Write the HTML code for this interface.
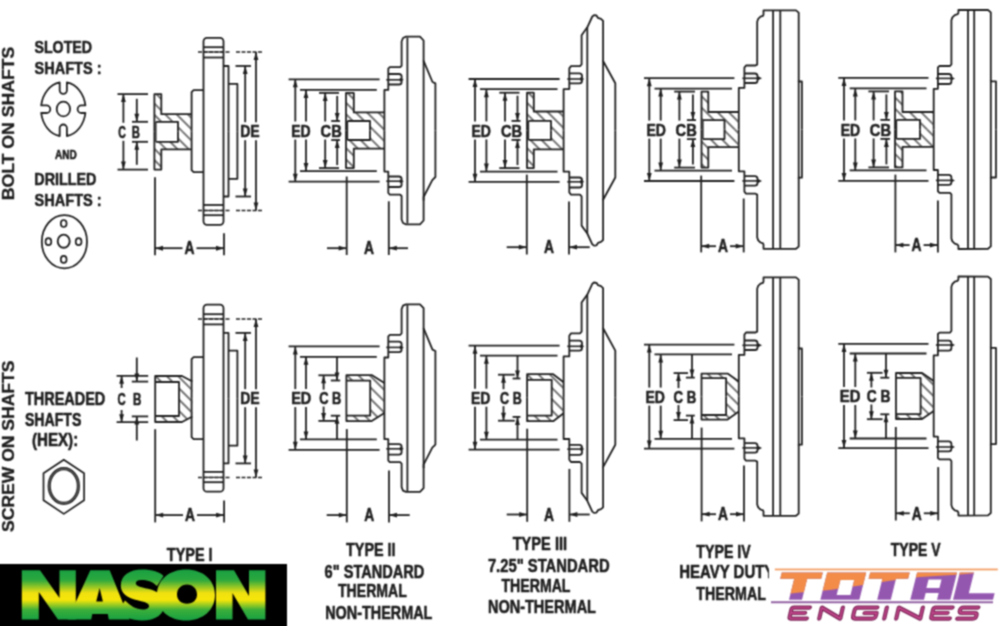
<!DOCTYPE html><html><head><meta charset="utf-8"><title>Fan clutch types</title><style>html,body{margin:0;padding:0;background:#fff;width:1000px;height:626px;overflow:hidden}svg{display:block}</style></head><body>
<svg width="1000" height="626" viewBox="0 0 1000 626">
<defs>
<filter id="soft" x="0" y="0" width="1" height="1" color-interpolation-filters="sRGB"><feConvolveMatrix order="3" kernelMatrix="1 2 1 2 5 2 1 2 1" divisor="17" edgeMode="duplicate"/></filter>
<pattern id="hatch" patternUnits="userSpaceOnUse" width="8" height="8" patternTransform="rotate(45)"><line x1="0" y1="4" x2="8" y2="4" stroke="#3a3a3a" stroke-width="1.4"/></pattern>
<linearGradient id="nas" x1="0" y1="570" x2="0" y2="620" gradientUnits="userSpaceOnUse"><stop offset="0" stop-color="#1aa042"/><stop offset="0.2" stop-color="#2ba83e"/><stop offset="0.46" stop-color="#f0e010"/><stop offset="0.6" stop-color="#f6e60a"/><stop offset="0.8" stop-color="#3aae3a"/><stop offset="1" stop-color="#17a042"/></linearGradient>
<linearGradient id="tot" x1="780" y1="594" x2="800" y2="579" gradientUnits="userSpaceOnUse"><stop offset="0.5" stop-color="#f28c48"/><stop offset="0.5" stop-color="#9457b0"/></linearGradient>
</defs>
<g filter="url(#soft)">
<rect width="1000" height="626" fill="#fff"/>
<g fill="none" stroke="#1e1e1e" stroke-linejoin="round" font-family="Liberation Sans, sans-serif" font-weight="bold">
<rect x="203.5" y="37.8" width="20" height="187" rx="3.5" stroke-width="1.8"/>
<line x1="203.5" y1="47.2" x2="223.5" y2="47.2" stroke-width="1.8" />
<line x1="203.5" y1="215.2" x2="223.5" y2="215.2" stroke-width="1.8" />
<line x1="203.5" y1="57.5" x2="223.5" y2="57.5" stroke-width="1.8" />
<line x1="203.5" y1="205.0" x2="223.5" y2="205.0" stroke-width="1.8" />
<line x1="203.5" y1="52.0" x2="223.5" y2="52.0" stroke-width="1.2" />
<line x1="203.5" y1="210.5" x2="223.5" y2="210.5" stroke-width="1.2" />
<path d="M223.5,66.0 L228.5,66.0 L228.5,131.2" fill="none" stroke-width="1.8" />
<path d="M223.5,196.5 L228.5,196.5 L228.5,131.2" fill="none" stroke-width="1.8" />
<path d="M228.5,83.8 L237.4,83.8 L237.4,131.2" fill="none" stroke-width="1.8" />
<path d="M228.5,178.8 L237.4,178.8 L237.4,131.2" fill="none" stroke-width="1.8" />
<path d="M203.5,90.2 L193.6,90.2 L191.6,92.2 L191.6,131.2" fill="none" stroke-width="1.8" />
<path d="M203.5,172.2 L193.6,172.2 L191.6,170.2 L191.6,131.2" fill="none" stroke-width="1.8" />
<line x1="235.5" y1="196.5" x2="251.0" y2="196.5" stroke-width="1.8" />
<line x1="198.0" y1="210.5" x2="229.5" y2="210.5" stroke-width="1.5" stroke-dasharray="4,1.5"/>
<line x1="236.0" y1="210.5" x2="262.4" y2="210.5" stroke-width="1.5" stroke-dasharray="4,1.5"/>
<line x1="235.5" y1="66.0" x2="251.0" y2="66.0" stroke-width="1.8" />
<line x1="198.0" y1="52.0" x2="229.5" y2="52.0" stroke-width="1.5" stroke-dasharray="4,1.5"/>
<line x1="236.0" y1="52.0" x2="262.4" y2="52.0" stroke-width="1.5" stroke-dasharray="4,1.5"/>
<line x1="245.2" y1="122.2" x2="245.2" y2="66.0" stroke-width="1.8" />
<path d="M245.2,66.0 L242.8,74.0 L247.6,74.0 Z" fill="#1e1e1e" stroke="none"/>
<line x1="245.2" y1="140.2" x2="245.2" y2="196.5" stroke-width="1.8" />
<path d="M245.2,196.5 L242.8,188.5 L247.6,188.5 Z" fill="#1e1e1e" stroke="none"/>
<line x1="256.0" y1="122.2" x2="256.0" y2="52.0" stroke-width="1.8" />
<path d="M256.0,52.0 L253.6,60.0 L258.4,60.0 Z" fill="#1e1e1e" stroke="none"/>
<line x1="256.0" y1="140.2" x2="256.0" y2="210.5" stroke-width="1.8" />
<path d="M256.0,210.5 L253.6,202.5 L258.4,202.5 Z" fill="#1e1e1e" stroke="none"/>
<text x="240.2" y="137.4" font-size="16.5" text-anchor="start" fill="#1e1e1e" stroke="#1e1e1e" stroke-width="0.55" textLength="19.5" lengthAdjust="spacingAndGlyphs" >DE</text>
<path d="M154.4,94.1 L161.3,94.1 L161.3,114.2 L191.6,114.2 L191.6,131.8 L178.0,131.8 L178.0,121.8 L154.4,121.8 Z" fill="url(#hatch)" stroke="none"/>
<path d="M154.4,169.6 L161.3,169.6 L161.3,149.4 L191.6,149.4 L191.6,131.8 L178.0,131.8 L178.0,141.8 L154.4,141.8 Z" fill="url(#hatch)" stroke="none"/>
<path d="M154.4,131.8 L154.4,94.1 L161.3,94.1 L161.3,114.2 L191.6,114.2" fill="none" stroke-width="1.8" />
<path d="M154.4,131.8 L154.4,169.6 L161.3,169.6 L161.3,149.4 L191.6,149.4" fill="none" stroke-width="1.8" />
<path d="M155.9,121.8 L178.0,121.8 L178.0,131.8" fill="none" stroke-width="1.8" />
<path d="M155.9,141.8 L178.0,141.8 L178.0,131.8" fill="none" stroke-width="1.8" />
<line x1="155.9" y1="121.8" x2="155.9" y2="141.8" stroke-width="1.3" />
<line x1="117.5" y1="169.6" x2="148.0" y2="169.6" stroke-width="1.8" />
<line x1="132.0" y1="141.8" x2="148.0" y2="141.8" stroke-width="1.8" />
<line x1="117.5" y1="94.1" x2="148.0" y2="94.1" stroke-width="1.8" />
<line x1="132.0" y1="121.8" x2="148.0" y2="121.8" stroke-width="1.8" />
<line x1="123.4" y1="122.8" x2="123.4" y2="94.1" stroke-width="1.8" />
<path d="M123.4,94.1 L121.0,102.1 L125.8,102.1 Z" fill="#1e1e1e" stroke="none"/>
<line x1="123.4" y1="140.8" x2="123.4" y2="169.6" stroke-width="1.8" />
<path d="M123.4,169.6 L121.0,161.6 L125.8,161.6 Z" fill="#1e1e1e" stroke="none"/>
<line x1="136.8" y1="98.8" x2="136.8" y2="121.8" stroke-width="1.8" />
<path d="M136.8,121.8 L134.4,113.8 L139.2,113.8 Z" fill="#1e1e1e" stroke="none"/>
<line x1="136.8" y1="164.8" x2="136.8" y2="141.8" stroke-width="1.8" />
<path d="M136.8,141.8 L134.4,149.8 L139.2,149.8 Z" fill="#1e1e1e" stroke="none"/>
<text x="118.2" y="138.0" font-size="16.5" text-anchor="start" fill="#1e1e1e" stroke="#1e1e1e" stroke-width="0.55" textLength="7.6" lengthAdjust="spacingAndGlyphs" >C</text>
<text x="131.8" y="138.0" font-size="16.5" text-anchor="start" fill="#1e1e1e" stroke="#1e1e1e" stroke-width="0.55" textLength="8.2" lengthAdjust="spacingAndGlyphs" >B</text>
<line x1="155.0" y1="177.2" x2="155.0" y2="255.2" stroke-width="1.8" />
<line x1="224.0" y1="233.2" x2="224.0" y2="255.2" stroke-width="1.8" />
<line x1="155.0" y1="248.2" x2="182.5" y2="248.2" stroke-width="1.8" />
<path d="M155.0,248.2 L163.0,245.8 L163.0,250.7 Z" fill="#1e1e1e" stroke="none"/>
<line x1="196.5" y1="248.2" x2="224.0" y2="248.2" stroke-width="1.8" />
<path d="M224.0,248.2 L216.0,245.8 L216.0,250.7 Z" fill="#1e1e1e" stroke="none"/>
<text x="189.5" y="254.4" font-size="17.5" text-anchor="middle" fill="#1e1e1e" stroke="#1e1e1e" stroke-width="0.55" textLength="10" lengthAdjust="spacingAndGlyphs" >A</text>
<path d="M384.4,130.5 L384.4,89.9 L388.3,89.9 L388.3,68.7 L389.8,67.2 L400.2,67.2 L401.6,65.8 L401.6,41.5 L403.0,38.0 L406.0,36.7 L420.0,36.7 L423.6,40.5 L423.6,60.8 L432.5,82.0 L435.4,83.4 L435.4,130.5" fill="none" stroke-width="1.8" />
<path d="M384.4,130.5 L384.4,171.6 L388.3,171.6 L388.3,193.0 L389.8,194.6 L400.2,194.6 L401.6,196.0 L401.6,219.5 L403.0,223.0 L406.0,224.3 L420.0,224.3 L423.6,220.5 L423.6,197.0 L432.3,180.1 L435.4,177.0 L435.4,130.5" fill="none" stroke-width="1.8" />
<line x1="407.4" y1="37.5" x2="407.4" y2="223.5" stroke-width="1.8" />
<line x1="423.6" y1="60.5" x2="423.6" y2="200.5" stroke-width="1.8" />
<path d="M388.3,74.0 L399.0,74.0 Q401.6,74.0 401.6,76.6 L401.6,81.9 Q401.6,84.5 399.0,84.5 L388.3,84.5" fill="none" stroke-width="1.8"/>
<line x1="386.3" y1="79.8" x2="400.8" y2="79.8" stroke-width="1.6" />
<path d="M403.8,79.8 L399.8,77.8 L399.8,81.8 Z" fill="#1e1e1e" stroke="none"/>
<path d="M388.3,187.0 L399.0,187.0 Q401.6,187.0 401.6,184.4 L401.6,179.1 Q401.6,176.5 399.0,176.5 L388.3,176.5" fill="none" stroke-width="1.8"/>
<line x1="386.3" y1="181.2" x2="400.8" y2="181.2" stroke-width="1.6" />
<path d="M403.8,181.2 L399.8,179.2 L399.8,183.2 Z" fill="#1e1e1e" stroke="none"/>
<line x1="288.6" y1="181.7" x2="379.6" y2="181.7" stroke-width="1.8" />
<line x1="300.0" y1="171.1" x2="376.8" y2="171.1" stroke-width="1.8" />
<line x1="288.6" y1="79.3" x2="379.6" y2="79.3" stroke-width="1.8" />
<line x1="300.0" y1="89.9" x2="376.8" y2="89.9" stroke-width="1.8" />
<line x1="295.3" y1="121.5" x2="295.3" y2="79.3" stroke-width="1.8" />
<path d="M295.3,79.3 L292.9,87.3 L297.7,87.3 Z" fill="#1e1e1e" stroke="none"/>
<line x1="295.3" y1="139.5" x2="295.3" y2="181.7" stroke-width="1.8" />
<path d="M295.3,181.7 L292.9,173.7 L297.7,173.7 Z" fill="#1e1e1e" stroke="none"/>
<line x1="306.0" y1="121.5" x2="306.0" y2="89.9" stroke-width="1.8" />
<path d="M306.0,89.9 L303.6,97.9 L308.4,97.9 Z" fill="#1e1e1e" stroke="none"/>
<line x1="306.0" y1="139.5" x2="306.0" y2="171.1" stroke-width="1.8" />
<path d="M306.0,171.1 L303.6,163.1 L308.4,163.1 Z" fill="#1e1e1e" stroke="none"/>
<text x="291.2" y="136.7" font-size="16.5" text-anchor="start" fill="#1e1e1e" stroke="#1e1e1e" stroke-width="0.55" textLength="19.4" lengthAdjust="spacingAndGlyphs" >ED</text>
<path d="M346.0,92.9 L353.8,92.9 L353.8,112.4 L384.4,112.4 L384.4,130.5 L370.0,130.5 L370.0,121.0 L346.0,121.0 Z" fill="url(#hatch)" stroke="none"/>
<path d="M346.0,168.1 L353.8,168.1 L353.8,148.6 L384.4,148.6 L384.4,130.5 L370.0,130.5 L370.0,140.0 L346.0,140.0 Z" fill="url(#hatch)" stroke="none"/>
<path d="M346.0,130.5 L346.0,92.9 L353.8,92.9 L353.8,112.4 L384.4,112.4" fill="none" stroke-width="1.8" />
<path d="M346.0,130.5 L346.0,168.1 L353.8,168.1 L353.8,148.6 L384.4,148.6" fill="none" stroke-width="1.8" />
<path d="M347.5,121.0 L370.0,121.0 L370.0,130.5" fill="none" stroke-width="1.8" />
<path d="M347.5,140.0 L370.0,140.0 L370.0,130.5" fill="none" stroke-width="1.8" />
<line x1="347.5" y1="121.0" x2="347.5" y2="140.0" stroke-width="1.3" />
<line x1="319.0" y1="168.1" x2="339.0" y2="168.1" stroke-width="1.8" />
<line x1="331.2" y1="140.0" x2="340.0" y2="140.0" stroke-width="1.8" />
<line x1="319.0" y1="92.9" x2="339.0" y2="92.9" stroke-width="1.8" />
<line x1="331.2" y1="121.0" x2="340.0" y2="121.0" stroke-width="1.8" />
<line x1="325.2" y1="121.5" x2="325.2" y2="92.9" stroke-width="1.8" />
<path d="M325.2,92.9 L322.8,100.9 L327.6,100.9 Z" fill="#1e1e1e" stroke="none"/>
<line x1="325.2" y1="139.5" x2="325.2" y2="168.1" stroke-width="1.8" />
<path d="M325.2,168.1 L322.8,160.1 L327.6,160.1 Z" fill="#1e1e1e" stroke="none"/>
<line x1="337.2" y1="95.9" x2="337.2" y2="121.0" stroke-width="1.8" />
<path d="M337.2,121.0 L334.8,113.0 L339.6,113.0 Z" fill="#1e1e1e" stroke="none"/>
<line x1="337.2" y1="165.1" x2="337.2" y2="140.0" stroke-width="1.8" />
<path d="M337.2,140.0 L334.8,148.0 L339.6,148.0 Z" fill="#1e1e1e" stroke="none"/>
<text x="320.6" y="136.7" font-size="16.5" text-anchor="start" fill="#1e1e1e" stroke="#1e1e1e" stroke-width="0.55" textLength="21.2" lengthAdjust="spacingAndGlyphs" >CB</text>
<path d="M563.6,130.4 L563.6,89.1 L569.3,89.1 L569.3,68.4 L571.0,66.1 L580.0,66.1 L581.6,64.4 L581.6,35.2 L587.3,27.3 L592.3,16.5 L594.0,15.2 L596.5,15.5 L598.0,17.9 L601.0,18.9 L603.1,20.8 L603.1,61.0 L615.3,83.3 L615.3,130.4" fill="none" stroke-width="1.8" />
<path d="M563.6,130.4 L563.6,171.7 L569.3,171.7 L569.3,192.4 L571.0,194.7 L580.0,194.7 L581.6,196.4 L581.6,225.6 L587.3,233.5 L592.3,244.3 L594.0,245.6 L596.5,245.3 L598.0,242.9 L601.0,241.9 L603.1,240.0 L603.1,199.8 L615.3,177.5 L615.3,130.4" fill="none" stroke-width="1.8" />
<line x1="587.3" y1="27.4" x2="587.3" y2="233.4" stroke-width="1.8" />
<line x1="603.1" y1="60.4" x2="603.1" y2="200.4" stroke-width="1.8" />
<path d="M569.3,73.3 L579.4,73.3 Q582.0,73.3 582.0,75.9 L582.0,80.7 Q582.0,83.3 579.4,83.3 L569.3,83.3" fill="none" stroke-width="1.8"/>
<line x1="567.3" y1="79.0" x2="581.4" y2="79.0" stroke-width="1.6" />
<path d="M584.4,79.0 L580.4,77.0 L580.4,81.0 Z" fill="#1e1e1e" stroke="none"/>
<path d="M569.3,187.5 L579.4,187.5 Q582.0,187.5 582.0,184.9 L582.0,180.1 Q582.0,177.5 579.4,177.5 L569.3,177.5" fill="none" stroke-width="1.8"/>
<line x1="567.3" y1="181.8" x2="581.4" y2="181.8" stroke-width="1.6" />
<path d="M584.4,181.8 L580.4,179.8 L580.4,183.8 Z" fill="#1e1e1e" stroke="none"/>
<line x1="468.6" y1="181.8" x2="559.6" y2="181.8" stroke-width="1.8" />
<line x1="480.0" y1="171.6" x2="557.5" y2="171.6" stroke-width="1.8" />
<line x1="468.6" y1="79.0" x2="559.6" y2="79.0" stroke-width="1.8" />
<line x1="480.0" y1="89.2" x2="557.5" y2="89.2" stroke-width="1.8" />
<line x1="475.0" y1="121.4" x2="475.0" y2="79.0" stroke-width="1.8" />
<path d="M475.0,79.0 L472.6,87.0 L477.4,87.0 Z" fill="#1e1e1e" stroke="none"/>
<line x1="475.0" y1="139.4" x2="475.0" y2="181.8" stroke-width="1.8" />
<path d="M475.0,181.8 L472.6,173.8 L477.4,173.8 Z" fill="#1e1e1e" stroke="none"/>
<line x1="486.4" y1="121.4" x2="486.4" y2="89.2" stroke-width="1.8" />
<path d="M486.4,89.2 L484.0,97.2 L488.8,97.2 Z" fill="#1e1e1e" stroke="none"/>
<line x1="486.4" y1="139.4" x2="486.4" y2="171.6" stroke-width="1.8" />
<path d="M486.4,171.6 L484.0,163.6 L488.8,163.6 Z" fill="#1e1e1e" stroke="none"/>
<text x="471.4" y="136.6" font-size="16.5" text-anchor="start" fill="#1e1e1e" stroke="#1e1e1e" stroke-width="0.55" textLength="19.4" lengthAdjust="spacingAndGlyphs" >ED</text>
<path d="M527.0,92.7 L533.8,92.7 L533.8,111.5 L563.6,111.5 L563.6,130.4 L551.0,130.4 L551.0,120.9 L527.0,120.9 Z" fill="url(#hatch)" stroke="none"/>
<path d="M527.0,168.1 L533.8,168.1 L533.8,149.3 L563.6,149.3 L563.6,130.4 L551.0,130.4 L551.0,139.9 L527.0,139.9 Z" fill="url(#hatch)" stroke="none"/>
<path d="M527.0,130.4 L527.0,92.7 L533.8,92.7 L533.8,111.5 L563.6,111.5" fill="none" stroke-width="1.8" />
<path d="M527.0,130.4 L527.0,168.1 L533.8,168.1 L533.8,149.3 L563.6,149.3" fill="none" stroke-width="1.8" />
<path d="M528.5,120.9 L551.0,120.9 L551.0,130.4" fill="none" stroke-width="1.8" />
<path d="M528.5,139.9 L551.0,139.9 L551.0,130.4" fill="none" stroke-width="1.8" />
<line x1="528.5" y1="120.9" x2="528.5" y2="139.9" stroke-width="1.3" />
<line x1="499.3" y1="168.1" x2="519.5" y2="168.1" stroke-width="1.8" />
<line x1="511.5" y1="139.9" x2="520.5" y2="139.9" stroke-width="1.8" />
<line x1="499.3" y1="92.7" x2="519.5" y2="92.7" stroke-width="1.8" />
<line x1="511.5" y1="120.9" x2="520.5" y2="120.9" stroke-width="1.8" />
<line x1="505.0" y1="121.4" x2="505.0" y2="92.7" stroke-width="1.8" />
<path d="M505.0,92.7 L502.6,100.7 L507.4,100.7 Z" fill="#1e1e1e" stroke="none"/>
<line x1="505.0" y1="139.4" x2="505.0" y2="168.1" stroke-width="1.8" />
<path d="M505.0,168.1 L502.6,160.1 L507.4,160.1 Z" fill="#1e1e1e" stroke="none"/>
<line x1="517.5" y1="95.7" x2="517.5" y2="120.9" stroke-width="1.8" />
<path d="M517.5,120.9 L515.1,112.9 L519.9,112.9 Z" fill="#1e1e1e" stroke="none"/>
<line x1="517.5" y1="165.1" x2="517.5" y2="139.9" stroke-width="1.8" />
<path d="M517.5,139.9 L515.1,147.9 L519.9,147.9 Z" fill="#1e1e1e" stroke="none"/>
<text x="501.0" y="136.6" font-size="16.5" text-anchor="start" fill="#1e1e1e" stroke="#1e1e1e" stroke-width="0.55" textLength="21.2" lengthAdjust="spacingAndGlyphs" >CB</text>
<path d="M738.8,129.6 L738.8,87.9 L744.4,87.9 L744.4,67.6 L746.0,65.5 L755.5,65.5 L757.2,64.6 L757.2,21.8 L758.2,18.8 L760.5,16.7 L763.0,15.8 L763.5,14.6 L763.5,10.4 L796.0,10.4 L798.7,12.6 L798.7,81.5 L801.9,81.5 L801.9,129.6" fill="none" stroke-width="1.8" />
<path d="M738.8,129.6 L738.8,171.3 L744.4,171.3 L744.4,191.6 L746.0,193.7 L755.5,193.7 L757.2,194.6 L757.2,237.4 L758.2,240.4 L760.5,242.5 L763.0,243.4 L763.5,244.6 L763.5,248.8 L796.0,248.8 L798.7,246.6 L798.7,177.7 L801.9,177.7 L801.9,129.6" fill="none" stroke-width="1.8" />
<line x1="773.1" y1="10.6" x2="773.1" y2="248.6" stroke-width="1.8" />
<line x1="780.3" y1="10.6" x2="780.3" y2="248.6" stroke-width="1.8" />
<line x1="798.7" y1="80.6" x2="798.7" y2="178.6" stroke-width="1.8" />
<path d="M744.4,73.5 L754.9,73.5 Q757.5,73.5 757.5,76.1 L757.5,80.4 Q757.5,83.0 754.9,83.0 L744.4,83.0" fill="none" stroke-width="1.8"/>
<line x1="742.4" y1="78.3" x2="759.0" y2="78.3" stroke-width="1.6" />
<path d="M762.0,78.3 L758.0,76.3 L758.0,80.3 Z" fill="#1e1e1e" stroke="none"/>
<path d="M744.4,185.7 L754.9,185.7 Q757.5,185.7 757.5,183.1 L757.5,178.8 Q757.5,176.2 754.9,176.2 L744.4,176.2" fill="none" stroke-width="1.8"/>
<line x1="742.4" y1="180.9" x2="759.0" y2="180.9" stroke-width="1.6" />
<path d="M762.0,180.9 L758.0,178.9 L758.0,182.9 Z" fill="#1e1e1e" stroke="none"/>
<line x1="644.0" y1="181.0" x2="734.4" y2="181.0" stroke-width="1.8" />
<line x1="654.5" y1="170.6" x2="732.0" y2="170.6" stroke-width="1.8" />
<line x1="644.0" y1="78.2" x2="734.4" y2="78.2" stroke-width="1.8" />
<line x1="654.5" y1="88.6" x2="732.0" y2="88.6" stroke-width="1.8" />
<line x1="649.3" y1="120.6" x2="649.3" y2="78.2" stroke-width="1.8" />
<path d="M649.3,78.2 L646.9,86.2 L651.7,86.2 Z" fill="#1e1e1e" stroke="none"/>
<line x1="649.3" y1="138.6" x2="649.3" y2="181.0" stroke-width="1.8" />
<path d="M649.3,181.0 L646.9,173.0 L651.7,173.0 Z" fill="#1e1e1e" stroke="none"/>
<line x1="660.7" y1="120.6" x2="660.7" y2="88.6" stroke-width="1.8" />
<path d="M660.7,88.6 L658.3,96.6 L663.1,96.6 Z" fill="#1e1e1e" stroke="none"/>
<line x1="660.7" y1="138.6" x2="660.7" y2="170.6" stroke-width="1.8" />
<path d="M660.7,170.6 L658.3,162.6 L663.1,162.6 Z" fill="#1e1e1e" stroke="none"/>
<text x="646.4" y="135.8" font-size="16.5" text-anchor="start" fill="#1e1e1e" stroke="#1e1e1e" stroke-width="0.55" textLength="19.4" lengthAdjust="spacingAndGlyphs" >ED</text>
<path d="M701.5,91.6 L708.3,91.6 L708.3,112.0 L738.8,112.0 L738.8,129.6 L724.5,129.6 L724.5,120.1 L701.5,120.1 Z" fill="url(#hatch)" stroke="none"/>
<path d="M701.5,167.6 L708.3,167.6 L708.3,147.2 L738.8,147.2 L738.8,129.6 L724.5,129.6 L724.5,139.1 L701.5,139.1 Z" fill="url(#hatch)" stroke="none"/>
<path d="M701.5,129.6 L701.5,91.6 L708.3,91.6 L708.3,112.0 L738.8,112.0" fill="none" stroke-width="1.8" />
<path d="M701.5,129.6 L701.5,167.6 L708.3,167.6 L708.3,147.2 L738.8,147.2" fill="none" stroke-width="1.8" />
<path d="M703.0,120.1 L724.5,120.1 L724.5,129.6" fill="none" stroke-width="1.8" />
<path d="M703.0,139.1 L724.5,139.1 L724.5,129.6" fill="none" stroke-width="1.8" />
<line x1="703.0" y1="120.1" x2="703.0" y2="139.1" stroke-width="1.3" />
<line x1="674.2" y1="167.6" x2="695.0" y2="167.6" stroke-width="1.8" />
<line x1="686.9" y1="139.1" x2="696.0" y2="139.1" stroke-width="1.8" />
<line x1="674.2" y1="91.6" x2="695.0" y2="91.6" stroke-width="1.8" />
<line x1="686.9" y1="120.1" x2="696.0" y2="120.1" stroke-width="1.8" />
<line x1="679.4" y1="120.6" x2="679.4" y2="91.6" stroke-width="1.8" />
<path d="M679.4,91.6 L677.0,99.6 L681.8,99.6 Z" fill="#1e1e1e" stroke="none"/>
<line x1="679.4" y1="138.6" x2="679.4" y2="167.6" stroke-width="1.8" />
<path d="M679.4,167.6 L677.0,159.6 L681.8,159.6 Z" fill="#1e1e1e" stroke="none"/>
<line x1="692.9" y1="94.6" x2="692.9" y2="120.1" stroke-width="1.8" />
<path d="M692.9,120.1 L690.5,112.1 L695.3,112.1 Z" fill="#1e1e1e" stroke="none"/>
<line x1="692.9" y1="164.6" x2="692.9" y2="139.1" stroke-width="1.8" />
<path d="M692.9,139.1 L690.5,147.1 L695.3,147.1 Z" fill="#1e1e1e" stroke="none"/>
<text x="675.6" y="135.8" font-size="16.5" text-anchor="start" fill="#1e1e1e" stroke="#1e1e1e" stroke-width="0.55" textLength="21.2" lengthAdjust="spacingAndGlyphs" >CB</text>
<path d="M933.7,129.4 L933.7,88.8 L937.9,88.8 L937.9,67.4 L939.5,66.0 L950.0,66.0 L951.4,64.4 L951.4,20.2 L952.4,17.4 L954.8,15.1 L957.6,14.2 L958.4,12.9 L958.4,9.8 L988.0,10.0 L990.8,12.4 L990.8,81.3 L996.0,81.3 L996.0,129.4" fill="none" stroke-width="1.8" />
<path d="M933.7,129.4 L933.7,170.0 L937.9,170.0 L937.9,191.4 L939.5,192.8 L950.0,192.8 L951.4,194.4 L951.4,238.6 L952.4,241.4 L954.8,243.7 L957.6,244.6 L958.4,245.9 L958.4,249.0 L988.0,248.8 L990.8,246.4 L990.8,177.5 L996.0,177.5 L996.0,129.4" fill="none" stroke-width="1.8" />
<line x1="968.0" y1="10.4" x2="968.0" y2="248.4" stroke-width="1.8" />
<line x1="974.2" y1="10.4" x2="974.2" y2="248.4" stroke-width="1.8" />
<line x1="990.8" y1="80.4" x2="990.8" y2="178.4" stroke-width="1.8" />
<path d="M937.9,74.0 L948.8,74.0 Q951.4,74.0 951.4,76.6 L951.4,81.4 Q951.4,84.0 948.8,84.0 L937.9,84.0" fill="none" stroke-width="1.8"/>
<line x1="935.9" y1="78.4" x2="952.0" y2="78.4" stroke-width="1.6" />
<path d="M955.0,78.4 L951.0,76.4 L951.0,80.4 Z" fill="#1e1e1e" stroke="none"/>
<path d="M937.9,184.8 L948.8,184.8 Q951.4,184.8 951.4,182.2 L951.4,177.4 Q951.4,174.8 948.8,174.8 L937.9,174.8" fill="none" stroke-width="1.8"/>
<line x1="935.9" y1="180.4" x2="952.0" y2="180.4" stroke-width="1.6" />
<path d="M955.0,180.4 L951.0,178.4 L951.0,182.4 Z" fill="#1e1e1e" stroke="none"/>
<line x1="838.3" y1="180.9" x2="928.5" y2="180.9" stroke-width="1.8" />
<line x1="849.7" y1="170.4" x2="926.5" y2="170.4" stroke-width="1.8" />
<line x1="838.3" y1="77.9" x2="928.5" y2="77.9" stroke-width="1.8" />
<line x1="849.7" y1="88.4" x2="926.5" y2="88.4" stroke-width="1.8" />
<line x1="844.0" y1="120.4" x2="844.0" y2="77.9" stroke-width="1.8" />
<path d="M844.0,77.9 L841.6,85.9 L846.4,85.9 Z" fill="#1e1e1e" stroke="none"/>
<line x1="844.0" y1="138.4" x2="844.0" y2="180.9" stroke-width="1.8" />
<path d="M844.0,180.9 L841.6,172.9 L846.4,172.9 Z" fill="#1e1e1e" stroke="none"/>
<line x1="855.3" y1="120.4" x2="855.3" y2="88.4" stroke-width="1.8" />
<path d="M855.3,88.4 L852.9,96.4 L857.7,96.4 Z" fill="#1e1e1e" stroke="none"/>
<line x1="855.3" y1="138.4" x2="855.3" y2="170.4" stroke-width="1.8" />
<path d="M855.3,170.4 L852.9,162.4 L857.7,162.4 Z" fill="#1e1e1e" stroke="none"/>
<text x="840.7" y="135.6" font-size="16.5" text-anchor="start" fill="#1e1e1e" stroke="#1e1e1e" stroke-width="0.55" textLength="19.4" lengthAdjust="spacingAndGlyphs" >ED</text>
<path d="M895.0,91.4 L902.5,91.4 L902.5,112.0 L933.7,112.0 L933.7,129.4 L920.0,129.4 L920.0,119.9 L895.0,119.9 Z" fill="url(#hatch)" stroke="none"/>
<path d="M895.0,167.4 L902.5,167.4 L902.5,146.8 L933.7,146.8 L933.7,129.4 L920.0,129.4 L920.0,138.9 L895.0,138.9 Z" fill="url(#hatch)" stroke="none"/>
<path d="M895.0,129.4 L895.0,91.4 L902.5,91.4 L902.5,112.0 L933.7,112.0" fill="none" stroke-width="1.8" />
<path d="M895.0,129.4 L895.0,167.4 L902.5,167.4 L902.5,146.8 L933.7,146.8" fill="none" stroke-width="1.8" />
<path d="M896.5,119.9 L920.0,119.9 L920.0,129.4" fill="none" stroke-width="1.8" />
<path d="M896.5,138.9 L920.0,138.9 L920.0,129.4" fill="none" stroke-width="1.8" />
<line x1="896.5" y1="119.9" x2="896.5" y2="138.9" stroke-width="1.3" />
<line x1="868.4" y1="167.4" x2="889.0" y2="167.4" stroke-width="1.8" />
<line x1="880.4" y1="138.9" x2="890.0" y2="138.9" stroke-width="1.8" />
<line x1="868.4" y1="91.4" x2="889.0" y2="91.4" stroke-width="1.8" />
<line x1="880.4" y1="119.9" x2="890.0" y2="119.9" stroke-width="1.8" />
<line x1="873.6" y1="120.4" x2="873.6" y2="91.4" stroke-width="1.8" />
<path d="M873.6,91.4 L871.2,99.4 L876.0,99.4 Z" fill="#1e1e1e" stroke="none"/>
<line x1="873.6" y1="138.4" x2="873.6" y2="167.4" stroke-width="1.8" />
<path d="M873.6,167.4 L871.2,159.4 L876.0,159.4 Z" fill="#1e1e1e" stroke="none"/>
<line x1="886.4" y1="94.4" x2="886.4" y2="119.9" stroke-width="1.8" />
<path d="M886.4,119.9 L884.0,111.9 L888.8,111.9 Z" fill="#1e1e1e" stroke="none"/>
<line x1="886.4" y1="164.4" x2="886.4" y2="138.9" stroke-width="1.8" />
<path d="M886.4,138.9 L884.0,146.9 L888.8,146.9 Z" fill="#1e1e1e" stroke="none"/>
<text x="869.8" y="135.6" font-size="16.5" text-anchor="start" fill="#1e1e1e" stroke="#1e1e1e" stroke-width="0.55" textLength="21.2" lengthAdjust="spacingAndGlyphs" >CB</text>
<rect x="203.5" y="304.7" width="20" height="187" rx="3.5" stroke-width="1.8"/>
<line x1="203.5" y1="314.2" x2="223.5" y2="314.2" stroke-width="1.8" />
<line x1="203.5" y1="482.2" x2="223.5" y2="482.2" stroke-width="1.8" />
<line x1="203.5" y1="324.4" x2="223.5" y2="324.4" stroke-width="1.8" />
<line x1="203.5" y1="471.9" x2="223.5" y2="471.9" stroke-width="1.8" />
<line x1="203.5" y1="318.9" x2="223.5" y2="318.9" stroke-width="1.2" />
<line x1="203.5" y1="477.4" x2="223.5" y2="477.4" stroke-width="1.2" />
<path d="M223.5,332.9 L228.5,332.9 L228.5,398.2" fill="none" stroke-width="1.8" />
<path d="M223.5,463.4 L228.5,463.4 L228.5,398.2" fill="none" stroke-width="1.8" />
<path d="M228.5,350.7 L237.4,350.7 L237.4,398.2" fill="none" stroke-width="1.8" />
<path d="M228.5,445.7 L237.4,445.7 L237.4,398.2" fill="none" stroke-width="1.8" />
<path d="M203.5,357.2 L193.6,357.2 L191.6,359.2 L191.6,398.2" fill="none" stroke-width="1.8" />
<path d="M203.5,439.2 L193.6,439.2 L191.6,437.2 L191.6,398.2" fill="none" stroke-width="1.8" />
<line x1="235.5" y1="463.4" x2="251.0" y2="463.4" stroke-width="1.8" />
<line x1="198.0" y1="477.4" x2="229.5" y2="477.4" stroke-width="1.5" stroke-dasharray="4,1.5"/>
<line x1="236.0" y1="477.4" x2="262.4" y2="477.4" stroke-width="1.5" stroke-dasharray="4,1.5"/>
<line x1="235.5" y1="332.9" x2="251.0" y2="332.9" stroke-width="1.8" />
<line x1="198.0" y1="318.9" x2="229.5" y2="318.9" stroke-width="1.5" stroke-dasharray="4,1.5"/>
<line x1="236.0" y1="318.9" x2="262.4" y2="318.9" stroke-width="1.5" stroke-dasharray="4,1.5"/>
<line x1="245.2" y1="389.2" x2="245.2" y2="332.9" stroke-width="1.8" />
<path d="M245.2,332.9 L242.8,340.9 L247.6,340.9 Z" fill="#1e1e1e" stroke="none"/>
<line x1="245.2" y1="407.2" x2="245.2" y2="463.4" stroke-width="1.8" />
<path d="M245.2,463.4 L242.8,455.4 L247.6,455.4 Z" fill="#1e1e1e" stroke="none"/>
<line x1="256.0" y1="389.2" x2="256.0" y2="318.9" stroke-width="1.8" />
<path d="M256.0,318.9 L253.6,326.9 L258.4,326.9 Z" fill="#1e1e1e" stroke="none"/>
<line x1="256.0" y1="407.2" x2="256.0" y2="477.4" stroke-width="1.8" />
<path d="M256.0,477.4 L253.6,469.4 L258.4,469.4 Z" fill="#1e1e1e" stroke="none"/>
<text x="240.2" y="404.4" font-size="16.5" text-anchor="start" fill="#1e1e1e" stroke="#1e1e1e" stroke-width="0.55" textLength="19.5" lengthAdjust="spacingAndGlyphs" >DE</text>
<path d="M155.2,376.0 L182.0,376.0 L192.4,381.5 L192.4,399.0 L179.0,399.0 L179.0,382.0 L155.2,382.0 Z" fill="url(#hatch)" stroke="none"/>
<path d="M155.2,422.0 L182.0,422.0 L192.4,416.5 L192.4,399.0 L179.0,399.0 L179.0,416.0 L155.2,416.0 Z" fill="url(#hatch)" stroke="none"/>
<path d="M155.2,399.0 L155.2,376.0 L182.0,376.0 L192.4,381.5" fill="none" stroke-width="1.8" />
<path d="M155.2,399.0 L155.2,422.0 L182.0,422.0 L192.4,416.5" fill="none" stroke-width="1.8" />
<path d="M155.2,382.0 L179.0,382.0 L179.0,399.0" fill="none" stroke-width="1.8" />
<path d="M155.2,416.0 L179.0,416.0 L179.0,399.0" fill="none" stroke-width="1.8" />
<line x1="116.6" y1="422.2" x2="148.2" y2="422.2" stroke-width="1.8" />
<line x1="131.8" y1="416.4" x2="148.2" y2="416.4" stroke-width="1.8" />
<line x1="116.6" y1="375.8" x2="148.2" y2="375.8" stroke-width="1.8" />
<line x1="131.8" y1="381.6" x2="148.2" y2="381.6" stroke-width="1.8" />
<line x1="136.8" y1="357.5" x2="136.8" y2="381.6" stroke-width="1.8" />
<path d="M136.8,381.6 L134.4,373.6 L139.2,373.6 Z" fill="#1e1e1e" stroke="none"/>
<line x1="136.8" y1="440.5" x2="136.8" y2="416.4" stroke-width="1.8" />
<path d="M136.8,416.4 L134.4,424.4 L139.2,424.4 Z" fill="#1e1e1e" stroke="none"/>
<line x1="121.6" y1="388.0" x2="121.6" y2="375.8" stroke-width="1.8" />
<path d="M121.6,375.8 L119.2,383.8 L124.0,383.8 Z" fill="#1e1e1e" stroke="none"/>
<line x1="121.6" y1="410.0" x2="121.6" y2="422.2" stroke-width="1.8" />
<path d="M121.6,422.2 L119.2,414.2 L124.0,414.2 Z" fill="#1e1e1e" stroke="none"/>
<text x="117.4" y="405.2" font-size="16.5" text-anchor="start" fill="#1e1e1e" stroke="#1e1e1e" stroke-width="0.55" textLength="8.2" lengthAdjust="spacingAndGlyphs" >C</text>
<text x="133.0" y="405.2" font-size="16.5" text-anchor="start" fill="#1e1e1e" stroke="#1e1e1e" stroke-width="0.55" textLength="8.4" lengthAdjust="spacingAndGlyphs" >B</text>
<line x1="155.2" y1="429.2" x2="155.2" y2="522.4" stroke-width="1.8" />
<line x1="224.1" y1="500.6" x2="224.1" y2="522.4" stroke-width="1.8" />
<line x1="155.2" y1="515.1" x2="183.0" y2="515.1" stroke-width="1.8" />
<path d="M155.2,515.1 L163.2,512.7 L163.2,517.5 Z" fill="#1e1e1e" stroke="none"/>
<line x1="197.0" y1="515.1" x2="224.1" y2="515.1" stroke-width="1.8" />
<path d="M224.1,515.1 L216.1,512.7 L216.1,517.5 Z" fill="#1e1e1e" stroke="none"/>
<text x="190.0" y="521.3" font-size="17.5" text-anchor="middle" fill="#1e1e1e" stroke="#1e1e1e" stroke-width="0.55" textLength="10" lengthAdjust="spacingAndGlyphs" >A</text>
<path d="M384.4,398.1 L384.4,357.5 L388.3,357.5 L388.3,336.3 L389.8,334.8 L400.2,334.8 L401.6,333.4 L401.6,309.1 L403.0,305.6 L406.0,304.3 L420.0,304.3 L423.6,308.1 L423.6,328.4 L432.5,349.6 L435.4,351.0 L435.4,398.1" fill="none" stroke-width="1.8" />
<path d="M384.4,398.1 L384.4,439.2 L388.3,439.2 L388.3,460.6 L389.8,462.2 L400.2,462.2 L401.6,463.6 L401.6,487.1 L403.0,490.6 L406.0,491.9 L420.0,491.9 L423.6,488.1 L423.6,464.6 L432.3,447.7 L435.4,444.6 L435.4,398.1" fill="none" stroke-width="1.8" />
<line x1="407.4" y1="305.1" x2="407.4" y2="491.1" stroke-width="1.8" />
<line x1="423.6" y1="328.1" x2="423.6" y2="468.1" stroke-width="1.8" />
<path d="M388.3,341.6 L399.0,341.6 Q401.6,341.6 401.6,344.2 L401.6,349.5 Q401.6,352.1 399.0,352.1 L388.3,352.1" fill="none" stroke-width="1.8"/>
<line x1="386.3" y1="347.4" x2="400.8" y2="347.4" stroke-width="1.6" />
<path d="M403.8,347.4 L399.8,345.4 L399.8,349.4 Z" fill="#1e1e1e" stroke="none"/>
<path d="M388.3,454.6 L399.0,454.6 Q401.6,454.6 401.6,452.0 L401.6,446.7 Q401.6,444.1 399.0,444.1 L388.3,444.1" fill="none" stroke-width="1.8"/>
<line x1="386.3" y1="448.8" x2="400.8" y2="448.8" stroke-width="1.6" />
<path d="M403.8,448.8 L399.8,446.8 L399.8,450.8 Z" fill="#1e1e1e" stroke="none"/>
<line x1="288.6" y1="449.8" x2="379.6" y2="449.8" stroke-width="1.8" />
<line x1="300.0" y1="439.4" x2="376.8" y2="439.4" stroke-width="1.8" />
<line x1="288.6" y1="346.4" x2="379.6" y2="346.4" stroke-width="1.8" />
<line x1="300.0" y1="356.8" x2="376.8" y2="356.8" stroke-width="1.8" />
<line x1="295.3" y1="389.1" x2="295.3" y2="346.4" stroke-width="1.8" />
<path d="M295.3,346.4 L292.9,354.4 L297.7,354.4 Z" fill="#1e1e1e" stroke="none"/>
<line x1="295.3" y1="407.1" x2="295.3" y2="449.8" stroke-width="1.8" />
<path d="M295.3,449.8 L292.9,441.8 L297.7,441.8 Z" fill="#1e1e1e" stroke="none"/>
<line x1="306.0" y1="389.1" x2="306.0" y2="356.8" stroke-width="1.8" />
<path d="M306.0,356.8 L303.6,364.8 L308.4,364.8 Z" fill="#1e1e1e" stroke="none"/>
<line x1="306.0" y1="407.1" x2="306.0" y2="439.4" stroke-width="1.8" />
<path d="M306.0,439.4 L303.6,431.4 L308.4,431.4 Z" fill="#1e1e1e" stroke="none"/>
<path d="M346.4,375.1 L371.7,375.1 L384.4,383.1 L384.4,398.1 L370.2,398.1 L370.2,380.6 L346.4,380.6 Z" fill="url(#hatch)" stroke="none"/>
<path d="M346.4,421.1 L371.7,421.1 L384.4,413.1 L384.4,398.1 L370.2,398.1 L370.2,415.6 L346.4,415.6 Z" fill="url(#hatch)" stroke="none"/>
<path d="M346.4,398.1 L346.4,375.1 L371.7,375.1 L384.4,383.1" fill="none" stroke-width="1.8" />
<path d="M346.4,398.1 L346.4,421.1 L371.7,421.1 L384.4,413.1" fill="none" stroke-width="1.8" />
<path d="M346.4,380.6 L370.2,380.6 L370.2,398.1" fill="none" stroke-width="1.8" />
<path d="M346.4,415.6 L370.2,415.6 L370.2,398.1" fill="none" stroke-width="1.8" />
<line x1="318.4" y1="420.9" x2="336.0" y2="420.9" stroke-width="1.8" />
<line x1="330.8" y1="415.7" x2="340.2" y2="415.7" stroke-width="1.8" />
<line x1="318.4" y1="375.3" x2="336.0" y2="375.3" stroke-width="1.8" />
<line x1="330.8" y1="380.5" x2="340.2" y2="380.5" stroke-width="1.8" />
<line x1="323.6" y1="389.6" x2="323.6" y2="375.3" stroke-width="1.8" />
<path d="M323.6,375.3 L321.2,383.3 L326.0,383.3 Z" fill="#1e1e1e" stroke="none"/>
<line x1="323.6" y1="406.6" x2="323.6" y2="420.9" stroke-width="1.8" />
<path d="M323.6,420.9 L321.2,412.9 L326.0,412.9 Z" fill="#1e1e1e" stroke="none"/>
<line x1="337.0" y1="356.8" x2="337.0" y2="380.5" stroke-width="1.8" />
<path d="M337.0,380.5 L334.6,372.5 L339.4,372.5 Z" fill="#1e1e1e" stroke="none"/>
<line x1="337.0" y1="439.4" x2="337.0" y2="415.7" stroke-width="1.8" />
<path d="M337.0,415.7 L334.6,423.7 L339.4,423.7 Z" fill="#1e1e1e" stroke="none"/>
<text x="291.2" y="404.4" font-size="16.5" text-anchor="start" fill="#1e1e1e" stroke="#1e1e1e" stroke-width="0.55" textLength="20" lengthAdjust="spacingAndGlyphs" >ED</text>
<text x="319.2" y="404.4" font-size="16.5" text-anchor="start" fill="#1e1e1e" stroke="#1e1e1e" stroke-width="0.55" textLength="22.2" lengthAdjust="spacingAndGlyphs" >C B</text>
<path d="M563.6,397.7 L563.6,356.4 L569.3,356.4 L569.3,335.7 L571.0,333.4 L580.0,333.4 L581.6,331.7 L581.6,302.5 L587.3,294.6 L592.3,283.8 L594.0,282.5 L596.5,282.8 L598.0,285.2 L601.0,286.2 L603.1,288.1 L603.1,328.3 L615.3,350.6 L615.3,397.7" fill="none" stroke-width="1.8" />
<path d="M563.6,397.7 L563.6,439.0 L569.3,439.0 L569.3,459.7 L571.0,462.0 L580.0,462.0 L581.6,463.7 L581.6,492.9 L587.3,500.8 L592.3,511.6 L594.0,512.9 L596.5,512.6 L598.0,510.2 L601.0,509.2 L603.1,507.3 L603.1,467.1 L615.3,444.8 L615.3,397.7" fill="none" stroke-width="1.8" />
<line x1="587.3" y1="294.7" x2="587.3" y2="500.7" stroke-width="1.8" />
<line x1="603.1" y1="327.7" x2="603.1" y2="467.7" stroke-width="1.8" />
<path d="M569.3,340.6 L579.4,340.6 Q582.0,340.6 582.0,343.2 L582.0,348.0 Q582.0,350.6 579.4,350.6 L569.3,350.6" fill="none" stroke-width="1.8"/>
<line x1="567.3" y1="346.3" x2="581.4" y2="346.3" stroke-width="1.6" />
<path d="M584.4,346.3 L580.4,344.3 L580.4,348.3 Z" fill="#1e1e1e" stroke="none"/>
<path d="M569.3,454.8 L579.4,454.8 Q582.0,454.8 582.0,452.2 L582.0,447.4 Q582.0,444.8 579.4,444.8 L569.3,444.8" fill="none" stroke-width="1.8"/>
<line x1="567.3" y1="449.1" x2="581.4" y2="449.1" stroke-width="1.6" />
<path d="M584.4,449.1 L580.4,447.1 L580.4,451.1 Z" fill="#1e1e1e" stroke="none"/>
<line x1="468.6" y1="449.7" x2="559.6" y2="449.7" stroke-width="1.8" />
<line x1="480.0" y1="439.7" x2="557.5" y2="439.7" stroke-width="1.8" />
<line x1="468.6" y1="345.7" x2="559.6" y2="345.7" stroke-width="1.8" />
<line x1="480.0" y1="355.7" x2="557.5" y2="355.7" stroke-width="1.8" />
<line x1="475.0" y1="388.7" x2="475.0" y2="345.7" stroke-width="1.8" />
<path d="M475.0,345.7 L472.6,353.7 L477.4,353.7 Z" fill="#1e1e1e" stroke="none"/>
<line x1="475.0" y1="406.7" x2="475.0" y2="449.7" stroke-width="1.8" />
<path d="M475.0,449.7 L472.6,441.7 L477.4,441.7 Z" fill="#1e1e1e" stroke="none"/>
<line x1="486.4" y1="388.7" x2="486.4" y2="355.7" stroke-width="1.8" />
<path d="M486.4,355.7 L484.0,363.7 L488.8,363.7 Z" fill="#1e1e1e" stroke="none"/>
<line x1="486.4" y1="406.7" x2="486.4" y2="439.7" stroke-width="1.8" />
<path d="M486.4,439.7 L484.0,431.7 L488.8,431.7 Z" fill="#1e1e1e" stroke="none"/>
<path d="M527.1,374.2 L553.2,374.2 L563.6,382.2 L563.6,397.7 L551.7,397.7 L551.7,379.8 L527.1,379.8 Z" fill="url(#hatch)" stroke="none"/>
<path d="M527.1,421.2 L553.2,421.2 L563.6,413.2 L563.6,397.7 L551.7,397.7 L551.7,415.6 L527.1,415.6 Z" fill="url(#hatch)" stroke="none"/>
<path d="M527.1,397.7 L527.1,374.2 L553.2,374.2 L563.6,382.2" fill="none" stroke-width="1.8" />
<path d="M527.1,397.7 L527.1,421.2 L553.2,421.2 L563.6,413.2" fill="none" stroke-width="1.8" />
<path d="M527.1,379.8 L551.7,379.8 L551.7,397.7" fill="none" stroke-width="1.8" />
<path d="M527.1,415.6 L551.7,415.6 L551.7,397.7" fill="none" stroke-width="1.8" />
<line x1="498.0" y1="420.7" x2="514.8" y2="420.7" stroke-width="1.8" />
<line x1="512.6" y1="416.9" x2="520.4" y2="416.9" stroke-width="1.8" />
<line x1="498.0" y1="374.7" x2="514.8" y2="374.7" stroke-width="1.8" />
<line x1="512.6" y1="378.5" x2="520.4" y2="378.5" stroke-width="1.8" />
<line x1="503.5" y1="389.2" x2="503.5" y2="374.7" stroke-width="1.8" />
<path d="M503.5,374.7 L501.1,382.7 L505.9,382.7 Z" fill="#1e1e1e" stroke="none"/>
<line x1="503.5" y1="406.2" x2="503.5" y2="420.7" stroke-width="1.8" />
<path d="M503.5,420.7 L501.1,412.7 L505.9,412.7 Z" fill="#1e1e1e" stroke="none"/>
<line x1="517.5" y1="355.7" x2="517.5" y2="378.5" stroke-width="1.8" />
<path d="M517.5,378.5 L515.1,370.5 L519.9,370.5 Z" fill="#1e1e1e" stroke="none"/>
<line x1="517.5" y1="439.7" x2="517.5" y2="416.9" stroke-width="1.8" />
<path d="M517.5,416.9 L515.1,424.9 L519.9,424.9 Z" fill="#1e1e1e" stroke="none"/>
<text x="471.0" y="404.0" font-size="16.5" text-anchor="start" fill="#1e1e1e" stroke="#1e1e1e" stroke-width="0.55" textLength="19.4" lengthAdjust="spacingAndGlyphs" >ED</text>
<text x="500.1" y="404.0" font-size="16.5" text-anchor="start" fill="#1e1e1e" stroke="#1e1e1e" stroke-width="0.55" textLength="21.6" lengthAdjust="spacingAndGlyphs" >C B</text>
<path d="M738.8,396.6 L738.8,354.9 L744.4,354.9 L744.4,334.6 L746.0,332.5 L755.5,332.5 L757.2,331.6 L757.2,288.8 L758.2,285.8 L760.5,283.7 L763.0,282.8 L763.5,281.6 L763.5,277.4 L796.0,277.4 L798.7,279.6 L798.7,348.5 L801.9,348.5 L801.9,396.6" fill="none" stroke-width="1.8" />
<path d="M738.8,396.6 L738.8,438.3 L744.4,438.3 L744.4,458.6 L746.0,460.7 L755.5,460.7 L757.2,461.6 L757.2,504.4 L758.2,507.4 L760.5,509.5 L763.0,510.4 L763.5,511.6 L763.5,515.8 L796.0,515.8 L798.7,513.6 L798.7,444.7 L801.9,444.7 L801.9,396.6" fill="none" stroke-width="1.8" />
<line x1="773.1" y1="277.6" x2="773.1" y2="515.6" stroke-width="1.8" />
<line x1="780.3" y1="277.6" x2="780.3" y2="515.6" stroke-width="1.8" />
<line x1="798.7" y1="347.6" x2="798.7" y2="445.6" stroke-width="1.8" />
<path d="M744.4,340.5 L754.9,340.5 Q757.5,340.5 757.5,343.1 L757.5,347.4 Q757.5,350.0 754.9,350.0 L744.4,350.0" fill="none" stroke-width="1.8"/>
<line x1="742.4" y1="345.3" x2="759.0" y2="345.3" stroke-width="1.6" />
<path d="M762.0,345.3 L758.0,343.3 L758.0,347.3 Z" fill="#1e1e1e" stroke="none"/>
<path d="M744.4,452.7 L754.9,452.7 Q757.5,452.7 757.5,450.1 L757.5,445.8 Q757.5,443.2 754.9,443.2 L744.4,443.2" fill="none" stroke-width="1.8"/>
<line x1="742.4" y1="447.9" x2="759.0" y2="447.9" stroke-width="1.6" />
<path d="M762.0,447.9 L758.0,445.9 L758.0,449.9 Z" fill="#1e1e1e" stroke="none"/>
<line x1="644.0" y1="448.6" x2="734.4" y2="448.6" stroke-width="1.8" />
<line x1="654.5" y1="438.8" x2="732.0" y2="438.8" stroke-width="1.8" />
<line x1="644.0" y1="344.6" x2="734.4" y2="344.6" stroke-width="1.8" />
<line x1="654.5" y1="354.4" x2="732.0" y2="354.4" stroke-width="1.8" />
<line x1="649.3" y1="387.6" x2="649.3" y2="344.6" stroke-width="1.8" />
<path d="M649.3,344.6 L646.9,352.6 L651.7,352.6 Z" fill="#1e1e1e" stroke="none"/>
<line x1="649.3" y1="405.6" x2="649.3" y2="448.6" stroke-width="1.8" />
<path d="M649.3,448.6 L646.9,440.6 L651.7,440.6 Z" fill="#1e1e1e" stroke="none"/>
<line x1="660.7" y1="387.6" x2="660.7" y2="354.4" stroke-width="1.8" />
<path d="M660.7,354.4 L658.3,362.4 L663.1,362.4 Z" fill="#1e1e1e" stroke="none"/>
<line x1="660.7" y1="405.6" x2="660.7" y2="438.8" stroke-width="1.8" />
<path d="M660.7,438.8 L658.3,430.8 L663.1,430.8 Z" fill="#1e1e1e" stroke="none"/>
<path d="M701.5,373.6 L727.6,373.6 L738.8,381.6 L738.8,396.6 L726.1,396.6 L726.1,378.2 L701.5,378.2 Z" fill="url(#hatch)" stroke="none"/>
<path d="M701.5,419.6 L727.6,419.6 L738.8,411.6 L738.8,396.6 L726.1,396.6 L726.1,415.0 L701.5,415.0 Z" fill="url(#hatch)" stroke="none"/>
<path d="M701.5,396.6 L701.5,373.6 L727.6,373.6 L738.8,381.6" fill="none" stroke-width="1.8" />
<path d="M701.5,396.6 L701.5,419.6 L727.6,419.6 L738.8,411.6" fill="none" stroke-width="1.8" />
<path d="M701.5,378.2 L726.1,378.2 L726.1,396.6" fill="none" stroke-width="1.8" />
<path d="M701.5,415.0 L726.1,415.0 L726.1,396.6" fill="none" stroke-width="1.8" />
<line x1="673.6" y1="420.1" x2="688.0" y2="420.1" stroke-width="1.8" />
<line x1="685.9" y1="415.6" x2="694.8" y2="415.6" stroke-width="1.8" />
<line x1="673.6" y1="373.1" x2="688.0" y2="373.1" stroke-width="1.8" />
<line x1="685.9" y1="377.6" x2="694.8" y2="377.6" stroke-width="1.8" />
<line x1="678.5" y1="388.1" x2="678.5" y2="373.1" stroke-width="1.8" />
<path d="M678.5,373.1 L676.1,381.1 L680.9,381.1 Z" fill="#1e1e1e" stroke="none"/>
<line x1="678.5" y1="405.1" x2="678.5" y2="420.1" stroke-width="1.8" />
<path d="M678.5,420.1 L676.1,412.1 L680.9,412.1 Z" fill="#1e1e1e" stroke="none"/>
<line x1="692.0" y1="354.4" x2="692.0" y2="377.6" stroke-width="1.8" />
<path d="M692.0,377.6 L689.6,369.6 L694.4,369.6 Z" fill="#1e1e1e" stroke="none"/>
<line x1="692.0" y1="438.8" x2="692.0" y2="415.6" stroke-width="1.8" />
<path d="M692.0,415.6 L689.6,423.6 L694.4,423.6 Z" fill="#1e1e1e" stroke="none"/>
<text x="645.4" y="402.9" font-size="16.5" text-anchor="start" fill="#1e1e1e" stroke="#1e1e1e" stroke-width="0.55" textLength="19.4" lengthAdjust="spacingAndGlyphs" >ED</text>
<text x="673.4" y="402.9" font-size="16.5" text-anchor="start" fill="#1e1e1e" stroke="#1e1e1e" stroke-width="0.55" textLength="22.8" lengthAdjust="spacingAndGlyphs" >C B</text>
<path d="M933.7,396.0 L933.7,355.4 L937.9,355.4 L937.9,334.0 L939.5,332.6 L950.0,332.6 L951.4,331.0 L951.4,286.8 L952.4,284.0 L954.8,281.7 L957.6,280.8 L958.4,279.5 L958.4,276.4 L988.0,276.6 L990.8,279.0 L990.8,347.9 L996.0,347.9 L996.0,396.0" fill="none" stroke-width="1.8" />
<path d="M933.7,396.0 L933.7,436.6 L937.9,436.6 L937.9,458.0 L939.5,459.4 L950.0,459.4 L951.4,461.0 L951.4,505.2 L952.4,508.0 L954.8,510.3 L957.6,511.2 L958.4,512.5 L958.4,515.6 L988.0,515.4 L990.8,513.0 L990.8,444.1 L996.0,444.1 L996.0,396.0" fill="none" stroke-width="1.8" />
<line x1="968.0" y1="277.0" x2="968.0" y2="515.0" stroke-width="1.8" />
<line x1="974.2" y1="277.0" x2="974.2" y2="515.0" stroke-width="1.8" />
<line x1="990.8" y1="347.0" x2="990.8" y2="445.0" stroke-width="1.8" />
<path d="M937.9,340.6 L948.8,340.6 Q951.4,340.6 951.4,343.2 L951.4,348.0 Q951.4,350.6 948.8,350.6 L937.9,350.6" fill="none" stroke-width="1.8"/>
<line x1="935.9" y1="345.0" x2="952.0" y2="345.0" stroke-width="1.6" />
<path d="M955.0,345.0 L951.0,343.0 L951.0,347.0 Z" fill="#1e1e1e" stroke="none"/>
<path d="M937.9,451.4 L948.8,451.4 Q951.4,451.4 951.4,448.8 L951.4,444.0 Q951.4,441.4 948.8,441.4 L937.9,441.4" fill="none" stroke-width="1.8"/>
<line x1="935.9" y1="447.0" x2="952.0" y2="447.0" stroke-width="1.6" />
<path d="M955.0,447.0 L951.0,445.0 L951.0,449.0 Z" fill="#1e1e1e" stroke="none"/>
<line x1="838.3" y1="448.1" x2="928.5" y2="448.1" stroke-width="1.8" />
<line x1="849.7" y1="438.5" x2="926.5" y2="438.5" stroke-width="1.8" />
<line x1="838.3" y1="343.9" x2="928.5" y2="343.9" stroke-width="1.8" />
<line x1="849.7" y1="353.5" x2="926.5" y2="353.5" stroke-width="1.8" />
<line x1="844.0" y1="387.0" x2="844.0" y2="343.9" stroke-width="1.8" />
<path d="M844.0,343.9 L841.6,351.9 L846.4,351.9 Z" fill="#1e1e1e" stroke="none"/>
<line x1="844.0" y1="405.0" x2="844.0" y2="448.1" stroke-width="1.8" />
<path d="M844.0,448.1 L841.6,440.1 L846.4,440.1 Z" fill="#1e1e1e" stroke="none"/>
<line x1="855.3" y1="387.0" x2="855.3" y2="353.5" stroke-width="1.8" />
<path d="M855.3,353.5 L852.9,361.5 L857.7,361.5 Z" fill="#1e1e1e" stroke="none"/>
<line x1="855.3" y1="405.0" x2="855.3" y2="438.5" stroke-width="1.8" />
<path d="M855.3,438.5 L852.9,430.5 L857.7,430.5 Z" fill="#1e1e1e" stroke="none"/>
<path d="M896.0,373.0 L922.1,373.0 L933.7,381.0 L933.7,396.0 L920.6,396.0 L920.6,377.9 L896.0,377.9 Z" fill="url(#hatch)" stroke="none"/>
<path d="M896.0,419.0 L922.1,419.0 L933.7,411.0 L933.7,396.0 L920.6,396.0 L920.6,414.1 L896.0,414.1 Z" fill="url(#hatch)" stroke="none"/>
<path d="M896.0,396.0 L896.0,373.0 L922.1,373.0 L933.7,381.0" fill="none" stroke-width="1.8" />
<path d="M896.0,396.0 L896.0,419.0 L922.1,419.0 L933.7,411.0" fill="none" stroke-width="1.8" />
<path d="M896.0,377.9 L920.6,377.9 L920.6,396.0" fill="none" stroke-width="1.8" />
<path d="M896.0,414.1 L920.6,414.1 L920.6,396.0" fill="none" stroke-width="1.8" />
<line x1="866.9" y1="419.2" x2="882.6" y2="419.2" stroke-width="1.8" />
<line x1="880.3" y1="414.3" x2="889.3" y2="414.3" stroke-width="1.8" />
<line x1="866.9" y1="372.8" x2="882.6" y2="372.8" stroke-width="1.8" />
<line x1="880.3" y1="377.7" x2="889.3" y2="377.7" stroke-width="1.8" />
<line x1="871.4" y1="387.5" x2="871.4" y2="372.8" stroke-width="1.8" />
<path d="M871.4,372.8 L869.0,380.8 L873.8,380.8 Z" fill="#1e1e1e" stroke="none"/>
<line x1="871.4" y1="404.5" x2="871.4" y2="419.2" stroke-width="1.8" />
<path d="M871.4,419.2 L869.0,411.2 L873.8,411.2 Z" fill="#1e1e1e" stroke="none"/>
<line x1="886.0" y1="353.5" x2="886.0" y2="377.7" stroke-width="1.8" />
<path d="M886.0,377.7 L883.6,369.7 L888.4,369.7 Z" fill="#1e1e1e" stroke="none"/>
<line x1="886.0" y1="438.5" x2="886.0" y2="414.3" stroke-width="1.8" />
<path d="M886.0,414.3 L883.6,422.3 L888.4,422.3 Z" fill="#1e1e1e" stroke="none"/>
<text x="839.8" y="402.3" font-size="16.5" text-anchor="start" fill="#1e1e1e" stroke="#1e1e1e" stroke-width="0.55" textLength="20.6" lengthAdjust="spacingAndGlyphs" >ED</text>
<text x="866.8" y="402.3" font-size="16.5" text-anchor="start" fill="#1e1e1e" stroke="#1e1e1e" stroke-width="0.55" textLength="23.8" lengthAdjust="spacingAndGlyphs" >C B</text>
<line x1="346.7" y1="176.5" x2="346.7" y2="255.0" stroke-width="1.8" />
<line x1="388.8" y1="201.3" x2="388.8" y2="255.0" stroke-width="1.8" />
<line x1="327.0" y1="248.2" x2="346.7" y2="248.2" stroke-width="1.8" />
<path d="M346.7,248.2 L338.7,245.8 L338.7,250.6 Z" fill="#1e1e1e" stroke="none"/>
<line x1="408.0" y1="248.2" x2="388.8" y2="248.2" stroke-width="1.8" />
<path d="M388.8,248.2 L396.8,245.8 L396.8,250.6 Z" fill="#1e1e1e" stroke="none"/>
<text x="369.0" y="254.4" font-size="17.5" text-anchor="middle" fill="#1e1e1e" stroke="#1e1e1e" stroke-width="0.55" textLength="10" lengthAdjust="spacingAndGlyphs" >A</text>
<line x1="346.8" y1="429.1" x2="346.8" y2="522.4" stroke-width="1.8" />
<line x1="389.0" y1="470.5" x2="389.0" y2="522.4" stroke-width="1.8" />
<line x1="326.7" y1="515.1" x2="346.8" y2="515.1" stroke-width="1.8" />
<path d="M346.8,515.1 L338.8,512.7 L338.8,517.5 Z" fill="#1e1e1e" stroke="none"/>
<line x1="409.7" y1="515.1" x2="389.0" y2="515.1" stroke-width="1.8" />
<path d="M389.0,515.1 L397.0,512.7 L397.0,517.5 Z" fill="#1e1e1e" stroke="none"/>
<text x="369.2" y="521.3" font-size="17.5" text-anchor="middle" fill="#1e1e1e" stroke="#1e1e1e" stroke-width="0.55" textLength="10" lengthAdjust="spacingAndGlyphs" >A</text>
<line x1="526.8" y1="174.6" x2="526.8" y2="254.5" stroke-width="1.8" />
<line x1="569.0" y1="201.6" x2="569.0" y2="254.5" stroke-width="1.8" />
<line x1="506.7" y1="247.2" x2="526.8" y2="247.2" stroke-width="1.8" />
<path d="M526.8,247.2 L518.8,244.8 L518.8,249.6 Z" fill="#1e1e1e" stroke="none"/>
<line x1="589.7" y1="247.2" x2="569.0" y2="247.2" stroke-width="1.8" />
<path d="M569.0,247.2 L577.0,244.8 L577.0,249.6 Z" fill="#1e1e1e" stroke="none"/>
<text x="549.0" y="253.4" font-size="17.5" text-anchor="middle" fill="#1e1e1e" stroke="#1e1e1e" stroke-width="0.55" textLength="10" lengthAdjust="spacingAndGlyphs" >A</text>
<line x1="527.2" y1="428.7" x2="527.2" y2="521.8" stroke-width="1.8" />
<line x1="569.4" y1="468.9" x2="569.4" y2="521.8" stroke-width="1.8" />
<line x1="506.7" y1="514.5" x2="527.2" y2="514.5" stroke-width="1.8" />
<path d="M527.2,514.5 L519.2,512.1 L519.2,516.9 Z" fill="#1e1e1e" stroke="none"/>
<line x1="589.7" y1="514.5" x2="569.4" y2="514.5" stroke-width="1.8" />
<path d="M569.4,514.5 L577.4,512.1 L577.4,516.9 Z" fill="#1e1e1e" stroke="none"/>
<text x="549.0" y="520.7" font-size="17.5" text-anchor="middle" fill="#1e1e1e" stroke="#1e1e1e" stroke-width="0.55" textLength="10" lengthAdjust="spacingAndGlyphs" >A</text>
<line x1="701.2" y1="175.6" x2="701.2" y2="252.4" stroke-width="1.8" />
<line x1="743.7" y1="198.5" x2="743.7" y2="252.4" stroke-width="1.8" />
<line x1="701.2" y1="246.2" x2="716.0" y2="246.2" stroke-width="1.8" />
<path d="M701.2,246.2 L709.2,243.8 L709.2,248.6 Z" fill="#1e1e1e" stroke="none"/>
<line x1="730.0" y1="246.2" x2="743.7" y2="246.2" stroke-width="1.8" />
<path d="M743.7,246.2 L735.7,243.8 L735.7,248.6 Z" fill="#1e1e1e" stroke="none"/>
<text x="723.0" y="252.4" font-size="17.5" text-anchor="middle" fill="#1e1e1e" stroke="#1e1e1e" stroke-width="0.55" textLength="10" lengthAdjust="spacingAndGlyphs" >A</text>
<line x1="701.6" y1="427.6" x2="701.6" y2="521.4" stroke-width="1.8" />
<line x1="744.0" y1="465.5" x2="744.0" y2="521.4" stroke-width="1.8" />
<line x1="701.6" y1="514.2" x2="716.0" y2="514.2" stroke-width="1.8" />
<path d="M701.6,514.2 L709.6,511.8 L709.6,516.6 Z" fill="#1e1e1e" stroke="none"/>
<line x1="730.0" y1="514.2" x2="744.0" y2="514.2" stroke-width="1.8" />
<path d="M744.0,514.2 L736.0,511.8 L736.0,516.6 Z" fill="#1e1e1e" stroke="none"/>
<text x="723.0" y="520.4" font-size="17.5" text-anchor="middle" fill="#1e1e1e" stroke="#1e1e1e" stroke-width="0.55" textLength="10" lengthAdjust="spacingAndGlyphs" >A</text>
<line x1="895.4" y1="174.6" x2="895.4" y2="252.4" stroke-width="1.8" />
<line x1="937.9" y1="200.5" x2="937.9" y2="252.4" stroke-width="1.8" />
<line x1="895.4" y1="245.1" x2="909.6" y2="245.1" stroke-width="1.8" />
<path d="M895.4,245.1 L903.4,242.7 L903.4,247.5 Z" fill="#1e1e1e" stroke="none"/>
<line x1="923.6" y1="245.1" x2="937.9" y2="245.1" stroke-width="1.8" />
<path d="M937.9,245.1 L929.9,242.7 L929.9,247.5 Z" fill="#1e1e1e" stroke="none"/>
<text x="916.6" y="251.3" font-size="17.5" text-anchor="middle" fill="#1e1e1e" stroke="#1e1e1e" stroke-width="0.55" textLength="10" lengthAdjust="spacingAndGlyphs" >A</text>
<line x1="895.8" y1="427.0" x2="895.8" y2="520.5" stroke-width="1.8" />
<line x1="938.2" y1="467.1" x2="938.2" y2="520.5" stroke-width="1.8" />
<line x1="895.8" y1="513.3" x2="909.8" y2="513.3" stroke-width="1.8" />
<path d="M895.8,513.3 L903.8,510.9 L903.8,515.7 Z" fill="#1e1e1e" stroke="none"/>
<line x1="923.8" y1="513.3" x2="938.2" y2="513.3" stroke-width="1.8" />
<path d="M938.2,513.3 L930.2,510.9 L930.2,515.7 Z" fill="#1e1e1e" stroke="none"/>
<text x="916.8" y="519.5" font-size="17.5" text-anchor="middle" fill="#1e1e1e" stroke="#1e1e1e" stroke-width="0.55" textLength="10" lengthAdjust="spacingAndGlyphs" >A</text>
<text x="14.4" y="200.3" font-size="16.8" fill="#1e1e1e" stroke="#1e1e1e" stroke-width="0.35" transform="rotate(-90 14.4 200.3)" textLength="153.6" lengthAdjust="spacingAndGlyphs">BOLT ON SHAFTS</text>
<text x="14.4" y="532" font-size="16.8" fill="#1e1e1e" stroke="#1e1e1e" stroke-width="0.35" transform="rotate(-90 14.4 532)" textLength="171.5" lengthAdjust="spacingAndGlyphs">SCREW ON SHAFTS</text>
<text x="34.5" y="53.2" font-size="17.2" text-anchor="start" fill="#1e1e1e" stroke="#1e1e1e" stroke-width="0.55" textLength="57.5" lengthAdjust="spacingAndGlyphs" >SLOTED</text>
<text x="34.5" y="73.6" font-size="17.2" text-anchor="start" fill="#1e1e1e" stroke="#1e1e1e" stroke-width="0.55" textLength="67.1" lengthAdjust="spacingAndGlyphs" >SHAFTS :</text>
<text x="55.0" y="158.7" font-size="12" text-anchor="start" fill="#1e1e1e" stroke="#1e1e1e" stroke-width="0.55" textLength="21.8" lengthAdjust="spacingAndGlyphs" >AND</text>
<text x="34.3" y="184.9" font-size="17.2" text-anchor="start" fill="#1e1e1e" stroke="#1e1e1e" stroke-width="0.55" textLength="62.2" lengthAdjust="spacingAndGlyphs" >DRILLED</text>
<text x="34.5" y="205.8" font-size="17.2" text-anchor="start" fill="#1e1e1e" stroke="#1e1e1e" stroke-width="0.55" textLength="67.2" lengthAdjust="spacingAndGlyphs" >SHAFTS :</text>
<text x="24.9" y="405.4" font-size="17.5" text-anchor="start" fill="#1e1e1e" stroke="#1e1e1e" stroke-width="0.55" textLength="80.4" lengthAdjust="spacingAndGlyphs" >THREADED</text>
<text x="24.9" y="426.2" font-size="17.5" text-anchor="start" fill="#1e1e1e" stroke="#1e1e1e" stroke-width="0.55" textLength="56.5" lengthAdjust="spacingAndGlyphs" >SHAFTS</text>
<text x="31.9" y="445.5" font-size="17.5" text-anchor="start" fill="#1e1e1e" stroke="#1e1e1e" stroke-width="0.55" textLength="46.3" lengthAdjust="spacingAndGlyphs" >(HEX):</text>
<path d="M59.7,82.4 L59.7,90.2 A3.6,3.6 0 0 0 66.9,90.2 L66.9,82.4 A22.3,27.2 0 0 1 85.4,105.4 L81.4,105.4 A3.8,3.8 0 0 0 81.4,113 L85.4,113 A22.3,27.2 0 0 1 66.9,136 L66.9,128.1 A3.6,3.6 0 0 0 59.7,128.1 L59.7,136 A22.3,27.2 0 0 1 41.2,113 L46.5,113 A3.8,3.8 0 0 0 46.5,105.4 L41.2,105.4 A22.3,27.2 0 0 1 59.7,82.4 Z" stroke-width="1.8"/>
<ellipse cx="63.4" cy="109" rx="6.7" ry="7.4" stroke-width="1.8"/>
<ellipse cx="64.4" cy="241.7" rx="22.6" ry="26.6" stroke-width="1.8"/>
<ellipse cx="63.7" cy="241.2" rx="6" ry="6.6" stroke-width="1.9"/>
<ellipse cx="63.7" cy="223.5" rx="2.9" ry="3.5" stroke-width="1.7"/>
<ellipse cx="63.7" cy="259.4" rx="2.9" ry="3.5" stroke-width="1.7"/>
<ellipse cx="48.4" cy="241.7" rx="2.9" ry="3.5" stroke-width="1.7"/>
<ellipse cx="78.6" cy="241.7" rx="2.9" ry="3.5" stroke-width="1.7"/>
<path d="M63.8,459.7 L84.1,473.3 L84.1,500.3 L63.8,513.9 L43.5,500.3 L43.5,473.3 Z" stroke-width="1.7"/>
<ellipse cx="63.8" cy="486.0" rx="14.6" ry="17.4" stroke-width="3.2"/>
<ellipse cx="63.8" cy="486.0" rx="14.6" ry="17.4" stroke-width="0.8" stroke="#888"/>
<text x="166.8" y="560.6" font-size="17.7" text-anchor="start" fill="#1e1e1e" stroke="#1e1e1e" stroke-width="0.55" textLength="45.8" lengthAdjust="spacingAndGlyphs" >TYPE I</text>
<text x="346.0" y="555.8" font-size="17.7" text-anchor="start" fill="#1e1e1e" stroke="#1e1e1e" stroke-width="0.55" textLength="49.6" lengthAdjust="spacingAndGlyphs" >TYPE II</text>
<text x="324.6" y="578.2" font-size="17.7" text-anchor="start" fill="#1e1e1e" stroke="#1e1e1e" stroke-width="0.55" textLength="99.8" lengthAdjust="spacingAndGlyphs" >6&quot; STANDARD</text>
<text x="338.0" y="597.4" font-size="17.7" text-anchor="start" fill="#1e1e1e" stroke="#1e1e1e" stroke-width="0.55" textLength="68.8" lengthAdjust="spacingAndGlyphs" >THERMAL</text>
<text x="325.2" y="618.8" font-size="17.7" text-anchor="start" fill="#1e1e1e" stroke="#1e1e1e" stroke-width="0.55" textLength="107.2" lengthAdjust="spacingAndGlyphs" >NON-THERMAL</text>
<text x="512.7" y="549.7" font-size="17.7" text-anchor="start" fill="#1e1e1e" stroke="#1e1e1e" stroke-width="0.55" textLength="54.4" lengthAdjust="spacingAndGlyphs" >TYPE III</text>
<text x="487.9" y="571.5" font-size="17.7" text-anchor="start" fill="#1e1e1e" stroke="#1e1e1e" stroke-width="0.55" textLength="121.7" lengthAdjust="spacingAndGlyphs" >7.25&quot; STANDARD</text>
<text x="501.5" y="591.9" font-size="17.7" text-anchor="start" fill="#1e1e1e" stroke="#1e1e1e" stroke-width="0.55" textLength="69" lengthAdjust="spacingAndGlyphs" >THERMAL</text>
<text x="487.9" y="613.3" font-size="17.7" text-anchor="start" fill="#1e1e1e" stroke="#1e1e1e" stroke-width="0.55" textLength="108.1" lengthAdjust="spacingAndGlyphs" >NON-THERMAL</text>
<text x="696.3" y="557.9" font-size="17.7" text-anchor="start" fill="#1e1e1e" stroke="#1e1e1e" stroke-width="0.55" textLength="54.4" lengthAdjust="spacingAndGlyphs" >TYPE IV</text>
<text x="679.3" y="578.3" font-size="17.7" text-anchor="start" fill="#1e1e1e" stroke="#1e1e1e" stroke-width="0.55" textLength="95" lengthAdjust="spacingAndGlyphs" >HEAVY DUTY</text>
<text x="696.3" y="599.7" font-size="17.7" text-anchor="start" fill="#1e1e1e" stroke="#1e1e1e" stroke-width="0.55" textLength="69.7" lengthAdjust="spacingAndGlyphs" >THERMAL</text>
<text x="890.8" y="556.4" font-size="17.7" text-anchor="start" fill="#1e1e1e" stroke="#1e1e1e" stroke-width="0.55" textLength="49.7" lengthAdjust="spacingAndGlyphs" >TYPE V</text>
</g>
<rect x="0" y="564" width="287" height="62" fill="#000"/>
<g fill="url(#nas)">
<path d="M21.8,570.2 H40 L59.5,598 V570.2 H75.8 V619.5 H58 L38.8,592 V619.5 H21.8 Z"/>
<path d="M90.3,570.2 H109.7 L129.6,619.5 H108.8 L107.8,614 H92.3 L91.2,619.5 H67.8 Z M96.2,601.4 H102.9 L99.6,588 Z" fill-rule="evenodd"/>
<path d="M142,569.5 C152,569.5 160,572 163.5,576 L157,586 C152,581 146,579.8 141,580 C137.5,580.2 135.5,581.5 135.8,583.5 C136.2,586 140,587 148,588.8 C159,591.5 164.5,596 164.5,604 C164.5,614.5 155.5,620.5 142,620.5 C131,620.5 123,617 118,611.5 L125,600.5 C130,605.5 136,609.5 143,609.5 C147,609.5 149.2,608 149,605.8 C148.8,603.5 146,602.4 138.5,600.6 C127,597.8 120.8,593.5 120.8,585.5 C120.8,575.5 129.5,569.5 142,569.5 Z"/>
<path d="M186,569.5 C203,569.5 215,580 215,595 C215,610 203,620.5 186,620.5 C169,620.5 157,610 157,595 C157,580 169,569.5 186,569.5 Z M187,584.6 C181,584.6 177,589 177,594.5 C177,600 181,603.8 187,603.8 C193,603.8 197,600 197,594.5 C197,589 193,584.6 187,584.6 Z" fill-rule="evenodd"/>
<path d="M216,570.2 H234 L249,596 V570.2 H265.4 V619.5 H248 L232.5,593 V619.5 H216 Z"/>
</g>
<rect x="769" y="561" width="231" height="65" fill="#fff"/>
<rect x="774.8" y="568.6" width="223" height="1.7" fill="#f29a5e"/>
<rect x="771" y="601.3" width="222" height="1.9" fill="#8e5a9e"/>
<clipPath id="totclip"><path transform="translate(0,599.7) skewX(-14) translate(0,-599.7)" fill-rule="evenodd" d="M775,572.4 H816 V578.8 H802 V599.7 H789 V578.8 H775 Z M820.4,572.4 H859.4 V599.7 H820.4 Z M835.5,580 V595 H849.3 V580 Z M863.4,572.4 H902.9 V578.8 H890.8 V599.7 H877.2 V578.8 H863.4 Z M910.3,572.4 H950.3 V599.7 H937 V593 H924 V599.7 H910.3 Z M923.5,579.6 V588 H936.5 V579.6 Z M953,572.4 H967.2 V593.2 H993 V599.7 H953 Z"/></clipPath>
<g clip-path="url(#totclip)"><rect x="770" y="570" width="230" height="31" fill="#9457b0"/><path d="M770,596 L800,592.5 L830,590 L860,585.5 L890,580.8 L920,577 L960,574.4 L1000,571 V560 H770 Z" fill="#f28c48"/></g>
<g transform="translate(0,619.8) skewX(-13) translate(0,-619.8)" fill="none" stroke-linejoin="round" stroke-linecap="round">
<path d="M807,607.6 H791 Q789,607.6 789,609.6 V616.6 Q789,618.6 791,618.6 H806.5 M789,613 H803.5 M819,618.6 V607.6 L840,618.6 V607.6 M874.5,607.6 H855 Q852.3,607.6 852.3,610.5 V615.6 Q852.3,618.6 855.3,618.6 H872 Q875,618.6 875,615.6 V613 H863 M884,607.6 V618.6 M896,618.6 V607.6 L920,618.6 V607.6 M949.7,607.6 H932.7 Q930.7,607.6 930.7,609.6 V616.6 Q930.7,618.6 932.7,618.6 H949.5 M930.7,613 H946 M975.5,607.6 H960.5 Q957.7,607.6 957.7,610.3 Q957.7,613 960.5,613 H973 Q975.5,613 975.5,615.8 Q975.5,618.6 972.7,618.6 H957" stroke="#7a2255" stroke-width="4.2"/>
<path d="M807,607.6 H791 Q789,607.6 789,609.6 V616.6 Q789,618.6 791,618.6 H806.5 M789,613 H803.5 M819,618.6 V607.6 L840,618.6 V607.6 M874.5,607.6 H855 Q852.3,607.6 852.3,610.5 V615.6 Q852.3,618.6 855.3,618.6 H872 Q875,618.6 875,615.6 V613 H863 M884,607.6 V618.6 M896,618.6 V607.6 L920,618.6 V607.6 M949.7,607.6 H932.7 Q930.7,607.6 930.7,609.6 V616.6 Q930.7,618.6 932.7,618.6 H949.5 M930.7,613 H946 M975.5,607.6 H960.5 Q957.7,607.6 957.7,610.3 Q957.7,613 960.5,613 H973 Q975.5,613 975.5,615.8 Q975.5,618.6 972.7,618.6 H957" stroke="#c0468a" stroke-width="1.8"/>
</g>
</g>
</svg></body></html>
